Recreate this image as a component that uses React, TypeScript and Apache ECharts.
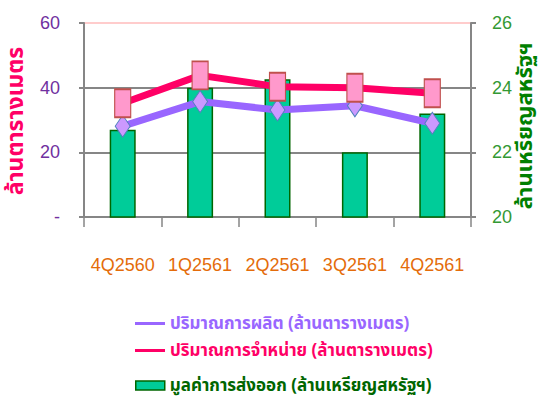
import React, { useEffect, useRef } from "react";
import * as echarts from "echarts";

const categories = ["4Q2560", "1Q2561", "2Q2561", "3Q2561", "4Q2561"];
const production = [28.1, 35.7, 33.1, 34.4, 29.0];
const sales = [35.2, 43.8, 40.3, 40.0, 38.3];
const exportValue = [22.7, 24.0, 24.26, 22.0, 23.2];

const nameProduction = "ปริมาณการผลิต (ล้านตารางเมตร)";
const nameSales = "ปริมาณการจำหน่าย (ล้านตารางเมตร)";
const nameExport = "มูลค่าการส่งออก (ล้านเหรียญสหรัฐฯ)";
const leftAxisName = "ล้านตารางเมตร";
const rightAxisName = "ล้านเหรียญสหรัฐฯ";

const narrow = "'Liberation Sans Narrow', 'Arial Narrow', 'Liberation Sans', sans-serif";
const thai = "'Noto Sans Thai', 'Noto Sans', 'DejaVu Sans', sans-serif";

export default function App() {
  const ref = useRef<HTMLDivElement>(null);
  useEffect(() => {
    if (!ref.current) return;
    const chart = echarts.init(ref.current, null, { renderer: "svg" });
    const legendText = (color: string) => ({ color, fontSize: 17, fontWeight: "bold" as const, fontFamily: thai });
    chart.setOption({
      animation: false,
      grid: { left: 84, right: 71, top: 23, bottom: 184 },
      legend: [
        {
          left: 135, top: 315, icon: "rect", itemWidth: 30, itemHeight: 3, itemGap: 5, padding: 0,
          data: [{ name: nameProduction, itemStyle: { color: "#9966ff", borderWidth: 0 }, textStyle: legendText("#9966ff") }],
        },
        {
          left: 135, top: 342, icon: "rect", itemWidth: 30, itemHeight: 3, itemGap: 5, padding: 0,
          data: [{ name: nameSales, itemStyle: { color: "#ff0066", borderWidth: 0 }, textStyle: legendText("#ff0066") }],
        },
        {
          left: 135, top: 377, icon: "rect", itemWidth: 29, itemHeight: 9, itemGap: 5, padding: 0,
          data: [{ name: nameExport, itemStyle: { color: "#00cc99", borderColor: "#006600", borderWidth: 1.5 }, textStyle: legendText("#006600") }],
        },
      ],
      xAxis: {
        type: "category",
        data: categories,
        boundaryGap: true,
        axisLine: { lineStyle: { color: "#868686", width: 2 } },
        axisTick: { show: true, length: 10, lineStyle: { color: "#868686", width: 1.5 } },
        axisLabel: { color: "#e46c0a", fontSize: 18, fontFamily: narrow, margin: 39, interval: 0 },
      },
      yAxis: [
        {
          type: "value", min: 0, max: 60, interval: 20,
          axisLine: { show: true, lineStyle: { color: "#868686", width: 2 } },
          axisTick: { show: true, length: 5, lineStyle: { color: "#868686", width: 2 } },
          axisLabel: {
            color: "#7030a0", fontSize: 18, fontFamily: narrow, margin: 24,
            formatter: (v: number) => (v === 0 ? "-" : String(v)),
          },
          splitLine: { show: true, lineStyle: { color: ["#868686", "#868686", "#868686", "#ffcccc"], width: 2 } },
        },
        {
          type: "value", min: 20, max: 26, interval: 2,
          axisLine: { show: true, lineStyle: { color: "#868686", width: 2 } },
          axisTick: { show: true, length: 5, lineStyle: { color: "#868686", width: 2 } },
          axisLabel: { color: "#339933", fontSize: 18, fontFamily: narrow, margin: 21 },
          splitLine: { show: false },
        },
      ],
      graphic: [
        {
          type: "text", x: 16, y: 121, rotation: Math.PI / 2,
          style: {
            text: leftAxisName, fill: "#ff0066", font: `bold 23px ${thai}`,
            align: "center", verticalAlign: "middle",
          },
        },
        {
          type: "text", x: 525, y: 126, rotation: Math.PI / 2,
          style: {
            text: rightAxisName, fill: "#008000", font: `bold 22px ${thai}`,
            align: "center", verticalAlign: "middle",
          },
        },
      ],
      series: [
        {
          name: nameExport, type: "bar", yAxisIndex: 1, barWidth: 26,
          itemStyle: { color: "#00cc99", borderColor: "#006600", borderWidth: 1.5 },
          data: exportValue, z: 1,
        },
        {
          name: nameProduction, type: "line", yAxisIndex: 0,
          lineStyle: { color: "#9966ff", width: 7 },
          symbol: "diamond", symbolSize: [15, 22],
          itemStyle: { color: "#cc99ff", borderColor: "#4f81bd", borderWidth: 1 },
          data: production, z: 3,
        },
        {
          name: nameSales, type: "line", yAxisIndex: 0,
          lineStyle: { color: "#ff0066", width: 7 },
          symbol: "rect", symbolSize: [16, 28],
          itemStyle: { color: "#ff99cc", borderColor: "#c0504d", borderWidth: 1.5 },
          data: sales, z: 4,
        },
      ],
    });
    return () => chart.dispose();
  }, []);
  return <div ref={ref} style={{ width: 542, height: 401, position: "absolute", left: 0, top: 0 }} />;
}
